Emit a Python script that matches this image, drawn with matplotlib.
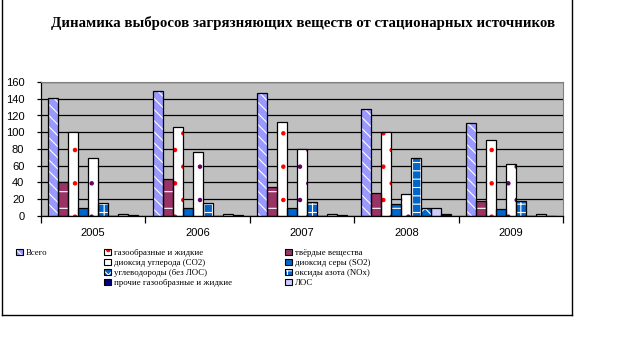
import matplotlib
matplotlib.use('Agg')
import matplotlib.pyplot as plt
from matplotlib.patches import Patch
from matplotlib.lines import Line2D
import numpy as np

plt.rcParams['hatch.linewidth'] = 0.8

# данные (т.т.)
years = ['2005', '2006', '2007', '2008', '2009']
total = [141, 149, 147, 128, 111]
solid = [40, 44, 35, 28, 18]
gas_liquid = [100, 106, 112, 100, 91]
so2 = [9, 10, 9, 14, 8]
co2 = [69, 76, 80, 26, 62]
nox = [15, 15, 17, 69, 18]
hydrocarbons = [0, 0, 0, 9.5, 0.5]
voc = [2, 2, 2, 9.5, 2]
other = [1, 1, 1, 2.5, 0.5]

labels = ['Всего', 'твёрдые вещества', 'газообразные и жидкие', 'диоксид серы (SO2)',
          'диоксид углерода (CO2)', 'оксиды азота (NOx)', 'углеводороды (без ЛОС)',
          'ЛОС', 'прочие газообразные и жидкие']
series = [total, solid, gas_liquid, so2, co2, nox, hydrocarbons, voc, other]
# (заливка, цвет штриховки, штриховка)
styles = [('#9999FF', 'white', '\\\\\\'),
          ('#993366', 'white', '-'),
          ('white', 'red', '.'),
          ('#0066CC', 'white', '-'),
          ('white', '#660066', '.'),
          ('#0066CC', 'white', '++'),
          ('#0066CC', 'white', 'xx'),
          ('#CCCCFF', None, None),
          ('#000080', None, None)]

fig = plt.figure(figsize=(6.19, 3.61), dpi=100)
ax = fig.add_axes([41 / 619, 1 - 216 / 361, 522 / 619, 134 / 361])
ax.set_facecolor('#C0C0C0')

x = np.arange(len(years))
w = 0.0958
handles = {}
for j, (vals, (fc, hc, h)) in enumerate(zip(series, styles)):
    pos = x + (j - 4) * w
    if h:
        ax.bar(pos, vals, w, color=fc, edgecolor=hc, hatch=h, linewidth=0, zorder=2)
    else:
        ax.bar(pos, vals, w, color=fc, linewidth=0, zorder=2)
    ax.bar(pos, vals, w, facecolor='none', edgecolor='black', linewidth=0.9, zorder=3)
    p1 = Patch(facecolor=fc, edgecolor=hc if h else fc, hatch=h, linewidth=0)
    p2 = Patch(facecolor='none', edgecolor='black', linewidth=0.8)
    handles[labels[j]] = (p1, p2)

ax.set_xlim(-0.5, 4.5)
ax.set_ylim(0, 160)
ax.set_yticks(range(0, 161, 20))
ax.yaxis.grid(True, color='black', linewidth=0.9, zorder=1)
ax.set_axisbelow(True)
ax.set_xticks(x)
ax.set_xticklabels(years)
ax.set_xticks(np.arange(-0.5, 5, 1), minor=True)
ax.tick_params(axis='x', which='major', length=0, pad=9, labelsize=8)
ax.tick_params(axis='x', which='minor', length=5, width=0.9, direction='out')
ax.tick_params(axis='y', length=3, width=0.9, labelsize=8, pad=9)
for lab in ax.get_xticklabels() + ax.get_yticklabels():
    lab.set_fontfamily('Liberation Sans')
ax.spines['top'].set_color('#808080')
ax.spines['right'].set_color('#808080')
ax.spines['left'].set_linewidth(0.9)
ax.spines['bottom'].set_linewidth(0.9)

fig.text(303 / 619, 1 - 23 / 361, 'Динамика выбросов загрязняющих веществ от стационарных источников',
         ha='center', va='center', fontsize=10.7, fontweight='bold', family='Liberation Serif')

# легенда в три колонки
cols = [(['Всего'], 16),
        (['газообразные и жидкие', 'диоксид углерода (CO2)', 'углеводороды (без ЛОС)',
          'прочие газообразные и жидкие'], 104),
        (['твёрдые вещества', 'диоксид серы (SO2)', 'оксиды азота (NOx)', 'ЛОС'], 285)]
for names, left in cols:
    leg = fig.legend([handles[n] for n in names], names, loc='upper left',
                     bbox_to_anchor=(left / 619, 1 - 249 / 361), frameon=False,
                     prop={'family': 'Liberation Serif', 'size': 6.3},
                     handlelength=0.75, handleheight=0.75, handletextpad=0.35,
                     labelspacing=0.2, borderpad=0, borderaxespad=0)

# рамка
fig.add_artist(Line2D([2 / 619, 2 / 619], [1, 1 - 315 / 361], color='black', lw=1))
fig.add_artist(Line2D([572 / 619, 572 / 619], [1, 1 - 315 / 361], color='black', lw=1))
fig.add_artist(Line2D([2 / 619, 572 / 619], [1 - 315 / 361, 1 - 315 / 361], color='black', lw=1))

fig.savefig('out.png', dpi=100)
